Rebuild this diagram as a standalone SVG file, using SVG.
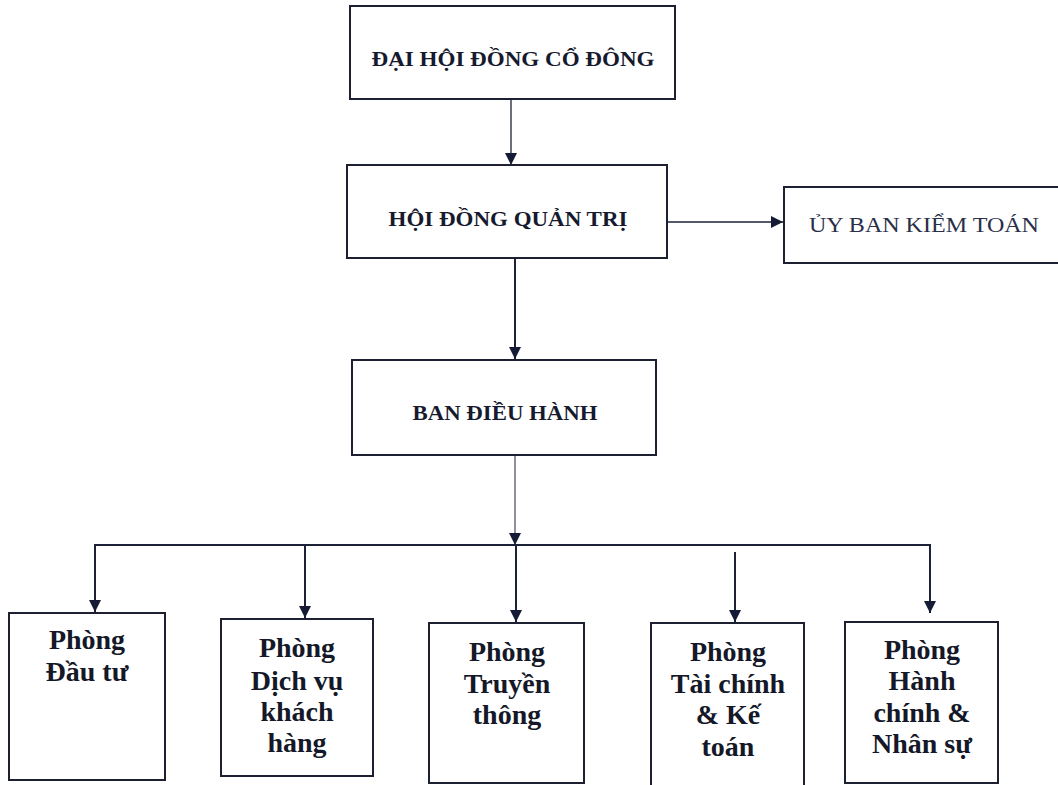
<svg xmlns="http://www.w3.org/2000/svg" width="1058" height="785" viewBox="0 0 1058 785">
<style>
.box{fill:#fff;stroke:#1d2030;stroke-width:2}
.hd{font-family:"Liberation Serif","Times New Roman",serif;font-weight:bold;fill:#161a2e;text-anchor:middle}
.rg{font-family:"Liberation Serif","Times New Roman",serif;fill:#2a2f48;text-anchor:middle}
.dp{font-family:"Liberation Serif","Times New Roman",serif;font-weight:bold;font-size:28px;fill:#141828;text-anchor:middle}
.ln{stroke:#1d2238;fill:none}
</style>
<defs>
<marker id="ah" markerUnits="userSpaceOnUse" markerWidth="13" markerHeight="12" refX="12" refY="6" orient="auto" viewBox="0 0 13 12">
<path d="M0,0 L12,6 L0,12 z" fill="#151a35"/>
</marker>
</defs>
<rect width="1058" height="785" fill="#fff"/>
<g id="connectors">
<line class="ln" x1="511" y1="99" x2="511" y2="165" stroke-width="1.3" marker-end="url(#ah)"/>
<line class="ln" x1="668" y1="222" x2="783" y2="222" stroke-width="1.3" marker-end="url(#ah)"/>
<line class="ln" x1="515" y1="259" x2="515" y2="359" stroke-width="2" marker-end="url(#ah)"/>
<line class="ln" x1="515" y1="456" x2="515" y2="545" stroke-width="1" stroke="#55586a" marker-end="url(#ah)"/>
<path class="ln" d="M95,545 H930" stroke-width="2"/>
<line class="ln" x1="95" y1="544" x2="95" y2="612" stroke-width="2" marker-end="url(#ah)"/>
<line class="ln" x1="305" y1="545" x2="305" y2="618" stroke-width="2" marker-end="url(#ah)"/>
<line class="ln" x1="516" y1="545" x2="516" y2="622" stroke-width="2" marker-end="url(#ah)"/>
<line class="ln" x1="735" y1="552" x2="735" y2="622" stroke-width="2" marker-end="url(#ah)"/>
<line class="ln" x1="930" y1="544" x2="930" y2="613" stroke-width="2" marker-end="url(#ah)"/>
</g>
<g id="dhdcd">
<rect class="box" x="350" y="6" width="325" height="93"/>
<text class="hd" x="513" y="66" font-size="22" textLength="283" lengthAdjust="spacingAndGlyphs">ĐẠI HỘI ĐỒNG CỔ ĐÔNG</text>
</g>
<g id="hdqt">
<rect class="box" x="347" y="165" width="320" height="93"/>
<text class="hd" x="508" y="226" font-size="22" textLength="239" lengthAdjust="spacingAndGlyphs">HỘI ĐỒNG QUẢN TRỊ</text>
</g>
<g id="ubkt">
<rect class="box" x="784" y="187" width="290" height="76"/>
<text class="rg" x="924" y="232" font-size="20" textLength="230" lengthAdjust="spacingAndGlyphs">ỦY BAN KIỂM TOÁN</text>
</g>
<g id="bdh">
<rect class="box" x="352" y="360" width="304" height="95"/>
<text class="hd" x="505" y="420" font-size="22" textLength="185" lengthAdjust="spacingAndGlyphs">BAN ĐIỀU HÀNH</text>
</g>
<g id="p-dautu">
<rect class="box" x="9" y="613" width="156" height="167"/>
<text class="dp" x="87" y="649">Phòng</text>
<text class="dp" x="87" y="681">Đầu tư</text>
</g>
<g id="p-dichvu">
<rect class="box" x="221" y="619" width="152" height="157"/>
<text class="dp" x="297" y="657">Phòng</text>
<text class="dp" x="297" y="690">Dịch vụ</text>
<text class="dp" x="297" y="721">khách</text>
<text class="dp" x="297" y="752">hàng</text>
</g>
<g id="p-truyenthong">
<rect class="box" x="429" y="623" width="155" height="160"/>
<text class="dp" x="507" y="661">Phòng</text>
<text class="dp" x="507" y="693">Truyền</text>
<text class="dp" x="507" y="724">thông</text>
</g>
<g id="p-taichinh">
<rect class="box" x="651" y="623" width="153" height="164"/>
<text class="dp" x="728" y="661">Phòng</text>
<text class="dp" x="728" y="693">Tài chính</text>
<text class="dp" x="728" y="724">&amp; Kế</text>
<text class="dp" x="728" y="756">toán</text>
</g>
<g id="p-hanhchinh">
<rect class="box" x="845" y="622" width="153" height="161"/>
<text class="dp" x="922" y="659">Phòng</text>
<text class="dp" x="922" y="690">Hành</text>
<text class="dp" x="922" y="722">chính &amp;</text>
<text class="dp" x="922" y="753">Nhân sự</text>
</g>
</svg>
